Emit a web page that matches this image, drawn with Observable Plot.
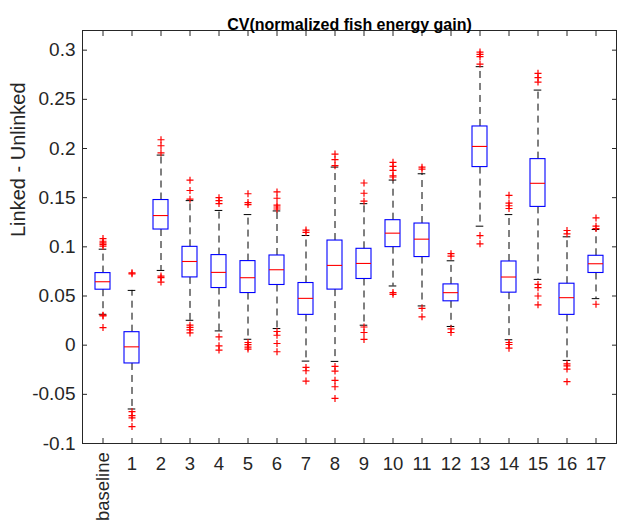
<!DOCTYPE html>
<html>
<head>
<meta charset="utf-8">
<script src="https://cdn.jsdelivr.net/npm/d3@7"></script>
<script src="https://cdn.jsdelivr.net/npm/@observablehq/plot@0.6"></script>
<style>
  html, body { margin: 0; padding: 0; background: #fff; }
  #chart { width: 617px; height: 530px; }
</style>
</head>
<body>
<div id="chart"></div>
<script>
const title = "CV(normalized fish energy gain)";
const yLabel = "Linked - Unlinked";
const categories = ["baseline","1","2","3","4","5","6","7","8","9","10","11","12","13","14","15","16","17"];
const whiskerLow  = [0.0314,-0.0649,0.0760,0.0253,0.0145,0.0060,0.0169,-0.0162,-0.0165,0.0203,0.0602,0.0399,0.0190,0.1210,0.0055,0.0669,-0.0155,0.0473];
const q1          = [0.0564,-0.0186,0.1176,0.0689,0.0581,0.0530,0.0612,0.0308,0.0565,0.0673,0.0997,0.0896,0.0446,0.1811,0.0534,0.1406,0.0308,0.0734];
const median      = [0.0645,-0.0017,0.1318,0.0851,0.0740,0.0686,0.0767,0.0476,0.0811,0.0831,0.1139,0.1078,0.0534,0.2021,0.0693,0.1646,0.0483,0.0828];
const q3          = [0.0733,0.0132,0.1476,0.1000,0.0916,0.0855,0.0912,0.0632,0.1064,0.0980,0.1271,0.1237,0.0618,0.2224,0.0851,0.1892,0.0625,0.0909];
const whiskerHigh = [0.0976,0.0557,0.1933,0.1470,0.1370,0.1328,0.1365,0.1115,0.1811,0.1439,0.1679,0.1743,0.0858,0.2832,0.1328,0.2594,0.1102,0.1176];
const outliers = [
  [0.1084,0.1057,0.1041,0.1024,0.1007,0.0305,0.0298,0.0179],
  [0.0736,0.0726,-0.0676,-0.0716,-0.0740,-0.0828],
  [0.2089,0.2028,0.1956,0.0703,0.0686,0.0642],
  [0.1678,0.1573,0.1485,0.0203,0.0180,0.0155,0.0125],
  [0.1500,0.1470,0.1440,0.0084,-0.0007,-0.0050],
  [0.1540,0.1450,0.1430,0.0027,0.0005,-0.0020,-0.0040],
  [0.1558,0.1494,0.1425,0.1405,0.1385,0.0139,0.0101,0.0017,-0.0067],
  [0.1170,0.1147,-0.0226,-0.0260,-0.0365],
  [0.1943,0.1886,0.1825,-0.0216,-0.0263,-0.0358,-0.0423,-0.0542],
  [0.1649,0.1545,0.1464,0.0185,0.0129,0.0058],
  [0.1859,0.1818,0.1778,0.1723,0.1710,0.0535,0.0517],
  [0.1810,0.1790,0.0375,0.0288],
  [0.0930,0.0905,0.0165,0.0129],
  [0.2980,0.2958,0.2935,0.2859,0.1115,0.1031],
  [0.1524,0.1445,0.1418,0.1390,0.0027,0.0007,-0.0030],
  [0.2764,0.2720,0.2676,0.0618,0.0585,0.0500,0.0410],
  [0.1166,0.1132,-0.0190,-0.0210,-0.0243,-0.0371],
  [0.1294,0.1210,0.1186,0.0416]
];
const yTicks = [-0.1,-0.05,0,0.05,0.1,0.15,0.2,0.25,0.3];
const yTickLabels = ["-0.1","-0.05","0","0.05","0.1","0.15","0.2","0.25","0.3"];

const rows = categories.map((c, i) => ({cat: c, lo: whiskerLow[i], q1: q1[i], med: median[i], q3: q3[i], hi: whiskerHigh[i]}));
const outRows = categories.flatMap((c, i) => outliers[i].map(v => ({cat: c, v})));
const yFmt = d => yTickLabels[yTicks.findIndex(t => Math.abs(t - d) < 1e-9)];

const axisColor = "#262626";
const font = "'Liberation Sans', Arial, Helvetica, sans-serif";

const chart = Plot.plot({
  width: 617,
  height: 530,
  marginLeft: 82,
  marginRight: 1,
  marginTop: 30,
  marginBottom: 87,
  style: {fontFamily: font, color: axisColor, background: "white"},
  x: {type: "band", domain: categories, paddingInner: 0.5, paddingOuter: 0.25},
  y: {domain: [-0.1, 0.32]},
  marks: [
    Plot.ruleX(rows, {x: "cat", y1: "q3", y2: "hi", stroke: "black", strokeDasharray: "7,5", strokeWidth: 1}),
    Plot.ruleX(rows, {x: "cat", y1: "q1", y2: "lo", stroke: "black", strokeDasharray: "7,5", strokeWidth: 1}),
    Plot.tickY(rows, {x: "cat", y: "hi", stroke: "black", insetLeft: 3.7, insetRight: 3.7}),
    Plot.tickY(rows, {x: "cat", y: "lo", stroke: "black", insetLeft: 3.7, insetRight: 3.7}),
    Plot.barY(rows, {x: "cat", y1: "q1", y2: "q3", fill: "none", stroke: "#0000ff", strokeWidth: 1.1}),
    Plot.tickY(rows, {x: "cat", y: "med", stroke: "#ff0000", strokeWidth: 1.1}),
    Plot.dot(outRows, {x: "cat", y: "v", symbol: "plus", stroke: "#ff0000", r: 2.4, strokeWidth: 1.2}),
    Plot.frame({stroke: axisColor}),
    Plot.axisY(yTicks, {anchor: "left", tickSize: -5, tickPadding: 12, tickFormat: yFmt, fontSize: 19, label: null, stroke: axisColor, fill: axisColor}),
    Plot.axisY(yTicks, {anchor: "right", tickSize: -5, tickFormat: () => "", label: null, stroke: axisColor}),
    Plot.axisX(categories.slice(1), {anchor: "bottom", tickSize: -5, tickPadding: 18.7, fontSize: 18.5, label: null, stroke: axisColor, fill: axisColor}),
    Plot.axisX(categories.slice(0, 1), {anchor: "bottom", tickSize: -5, tickPadding: 13.7, tickRotate: -90, fontSize: 18.5, label: null, stroke: axisColor, fill: axisColor}),
    Plot.axisX(categories, {anchor: "top", tickSize: -5, tickFormat: () => "", label: null, stroke: axisColor}),
    Plot.text([yLabel], {frameAnchor: "left", dx: -64, rotate: -90, fontSize: 20, fill: axisColor}),
    Plot.text([title], {frameAnchor: "top", dy: -12, fontSize: 16, fontWeight: "bold", fill: "black"})
  ]
});
document.getElementById("chart").appendChild(chart);
</script>
</body>
</html>
